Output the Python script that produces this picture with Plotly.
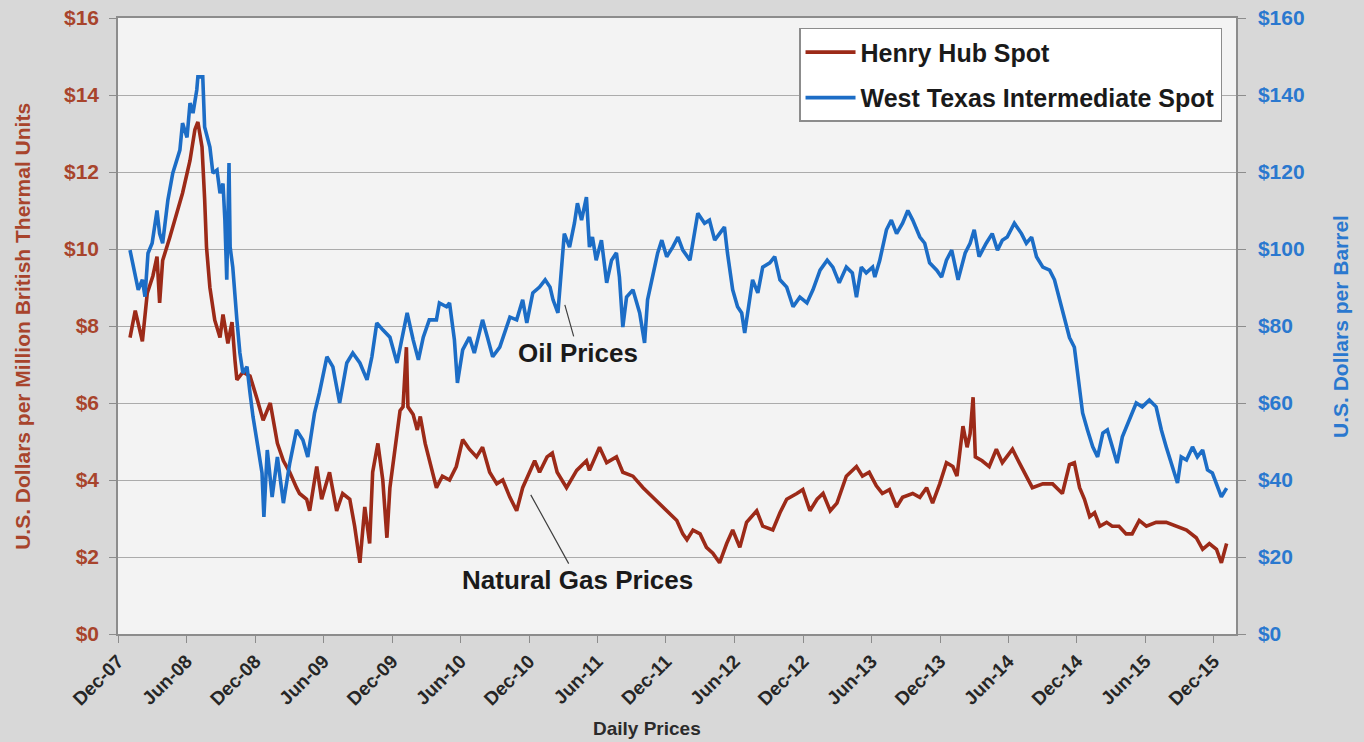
import plotly.graph_objects as go

# ---------------- data ----------------
gas_dates = [
    "2008-01-02", "2008-01-16", "2008-02-04", "2008-02-17", "2008-03-03", "2008-03-14", "2008-03-21", "2008-03-29",
    "2008-04-17", "2008-05-06", "2008-05-21", "2008-06-10", "2008-06-23", "2008-07-01", "2008-07-12", "2008-07-19",
    "2008-07-24", "2008-08-02", "2008-08-15", "2008-08-29", "2008-09-06", "2008-09-19", "2008-09-30", "2008-10-08",
    "2008-10-13", "2008-10-29", "2008-11-17", "2008-12-06", "2008-12-22", "2009-01-10", "2009-01-29", "2009-02-14",
    "2009-03-03", "2009-03-21", "2009-03-29", "2009-04-17", "2009-04-25", "2009-05-14", "2009-05-27", "2009-06-17",
    "2009-07-06", "2009-07-22", "2009-08-10", "2009-08-23", "2009-09-06", "2009-09-19", "2009-10-02", "2009-10-10",
    "2009-10-24", "2009-11-06", "2009-11-17", "2009-11-25", "2009-12-14", "2009-12-22", "2009-12-30", "2010-01-08",
    "2010-01-12", "2010-01-26", "2010-02-06", "2010-02-14", "2010-02-27", "2010-03-16", "2010-03-29", "2010-04-14",
    "2010-05-03", "2010-05-21", "2010-06-07", "2010-06-25", "2010-07-14", "2010-07-30", "2010-08-18", "2010-09-06",
    "2010-09-22", "2010-10-11", "2010-10-29", "2010-11-14", "2010-12-03", "2010-12-16", "2010-12-29", "2011-01-18",
    "2011-02-01", "2011-02-14", "2011-03-11", "2011-04-07", "2011-05-03", "2011-05-11", "2011-06-07", "2011-06-26",
    "2011-07-22", "2011-08-08", "2011-09-04", "2011-10-01", "2011-10-27", "2011-11-23", "2011-12-11", "2011-12-30",
    "2012-01-15", "2012-01-26", "2012-02-11", "2012-03-01", "2012-03-18", "2012-04-04", "2012-04-22", "2012-05-11",
    "2012-05-27", "2012-06-15", "2012-07-03", "2012-07-30", "2012-08-15", "2012-09-11", "2012-09-30", "2012-10-18",
    "2012-11-14", "2012-11-30", "2012-12-19", "2013-01-07", "2013-01-23", "2013-02-11", "2013-03-01", "2013-03-26",
    "2013-04-22", "2013-05-08", "2013-05-26", "2013-06-14", "2013-06-30", "2013-07-19", "2013-08-07", "2013-08-23",
    "2013-09-19", "2013-10-08", "2013-10-26", "2013-11-11", "2013-11-30", "2013-12-18", "2014-01-04", "2014-01-15",
    "2014-01-31", "2014-02-11", "2014-02-19", "2014-02-27", "2014-03-05", "2014-03-23", "2014-04-11", "2014-04-30",
    "2014-05-16", "2014-06-12", "2014-06-30", "2014-07-19", "2014-08-04", "2014-09-01", "2014-09-27", "2014-10-23",
    "2014-11-11", "2014-11-24", "2014-12-08", "2014-12-21", "2015-01-04", "2015-01-17", "2015-01-31", "2015-02-18",
    "2015-03-05", "2015-03-23", "2015-04-11", "2015-04-27", "2015-05-16", "2015-06-04", "2015-06-30", "2015-07-27",
    "2015-08-23", "2015-09-19", "2015-10-15", "2015-11-01", "2015-11-19", "2015-12-08", "2015-12-21", "2016-01-04",
]
gas_values = [
    7.7, 8.4, 7.6, 8.85, 9.3, 9.8, 8.6, 9.7,
    10.3, 10.9, 11.45, 12.3, 13.1, 13.3, 12.65, 11.3,
    10.05, 9.0, 8.15, 7.7, 8.3, 7.55, 8.1, 7.1,
    6.6, 6.8, 6.7, 6.1, 5.55, 6.0, 4.95, 4.5,
    4.2, 3.8, 3.65, 3.5, 3.2, 4.35, 3.5, 4.2,
    3.2, 3.65, 3.5, 2.8, 1.85, 3.3, 2.35, 4.2,
    4.95, 4.0, 2.5, 3.8, 5.2, 5.8, 5.9, 7.45,
    5.9, 5.7, 5.3, 5.65, 4.95, 4.25, 3.8, 4.1,
    4.0, 4.35, 5.05, 4.8, 4.6, 4.85, 4.2, 3.9,
    4.0, 3.55, 3.2, 3.8, 4.2, 4.5, 4.2, 4.6,
    4.7, 4.2, 3.8, 4.25, 4.5, 4.25, 4.85, 4.45,
    4.6, 4.2, 4.1, 3.8, 3.55, 3.3, 3.15, 2.95,
    2.6, 2.45, 2.7, 2.6, 2.25, 2.1, 1.85, 2.35,
    2.7, 2.25, 2.9, 3.2, 2.8, 2.7, 3.15, 3.5,
    3.65, 3.75, 3.2, 3.5, 3.65, 3.2, 3.4, 4.1,
    4.35, 4.1, 4.2, 3.85, 3.65, 3.75, 3.3, 3.55,
    3.65, 3.55, 3.8, 3.4, 3.9, 4.45, 4.35, 4.1,
    5.4, 4.85, 5.2, 6.15, 4.6, 4.5, 4.35, 4.8,
    4.45, 4.8, 4.45, 4.1, 3.8, 3.9, 3.9, 3.65,
    4.4, 4.45, 3.8, 3.5, 3.05, 3.15, 2.8, 2.9,
    2.8, 2.8, 2.6, 2.6, 2.95, 2.8, 2.9, 2.9,
    2.8, 2.7, 2.5, 2.2, 2.35, 2.2, 1.85, 2.35,
]

oil_dates = [
    "2008-01-02", "2008-01-16", "2008-01-24", "2008-02-04", "2008-02-11", "2008-02-19", "2008-03-01", "2008-03-14",
    "2008-03-21", "2008-03-29", "2008-04-12", "2008-04-25", "2008-05-06", "2008-05-14", "2008-05-21", "2008-06-02",
    "2008-06-10", "2008-06-18", "2008-06-28", "2008-07-01", "2008-07-14", "2008-07-19", "2008-08-02", "2008-08-10",
    "2008-08-21", "2008-08-29", "2008-09-06", "2008-09-11", "2008-09-16", "2008-09-22", "2008-09-25", "2008-10-02",
    "2008-10-13", "2008-10-21", "2008-10-29", "2008-11-09", "2008-11-17", "2008-11-25", "2008-12-08", "2008-12-19",
    "2008-12-24", "2009-01-02", "2009-01-15", "2009-01-29", "2009-02-14", "2009-03-03", "2009-03-21", "2009-04-07",
    "2009-04-20", "2009-05-08", "2009-05-21", "2009-06-10", "2009-06-26", "2009-07-14", "2009-08-02", "2009-08-18",
    "2009-09-06", "2009-09-25", "2009-10-08", "2009-10-21", "2009-11-06", "2009-11-25", "2009-12-14", "2009-12-28",
    "2010-01-10", "2010-01-26", "2010-02-09", "2010-02-22", "2010-03-10", "2010-03-29", "2010-04-06", "2010-04-25",
    "2010-05-03", "2010-05-16", "2010-05-24", "2010-06-07", "2010-06-25", "2010-07-08", "2010-07-30", "2010-08-12",
    "2010-08-26", "2010-09-14", "2010-10-11", "2010-10-29", "2010-11-14", "2010-11-25", "2010-12-11", "2010-12-29",
    "2011-01-13", "2011-01-26", "2011-02-03", "2011-02-16", "2011-02-25", "2011-03-05", "2011-03-19", "2011-04-01",
    "2011-04-09", "2011-04-20", "2011-05-03", "2011-05-11", "2011-05-19", "2011-05-29", "2011-06-12", "2011-06-26",
    "2011-07-09", "2011-07-22", "2011-07-30", "2011-08-08", "2011-08-18", "2011-09-04", "2011-09-22", "2011-10-05",
    "2011-10-13", "2011-10-27", "2011-11-09", "2011-11-20", "2011-12-03", "2011-12-19", "2012-01-02", "2012-01-15",
    "2012-02-03", "2012-02-24", "2012-03-13", "2012-03-26", "2012-04-09", "2012-04-22", "2012-05-05", "2012-05-13",
    "2012-05-27", "2012-06-09", "2012-06-20", "2012-06-28", "2012-07-11", "2012-07-19", "2012-08-02", "2012-08-15",
    "2012-09-03", "2012-09-16", "2012-09-30", "2012-10-18", "2012-11-04", "2012-11-22", "2012-12-11", "2012-12-27",
    "2013-01-15", "2013-02-03", "2013-02-18", "2013-03-07", "2013-03-26", "2013-04-11", "2013-04-22", "2013-05-05",
    "2013-05-18", "2013-06-04", "2013-06-10", "2013-06-23", "2013-07-11", "2013-07-24", "2013-08-07", "2013-08-23",
    "2013-09-06", "2013-09-19", "2013-10-08", "2013-10-21", "2013-11-03", "2013-11-22", "2013-12-05", "2013-12-18",
    "2014-01-01", "2014-01-18", "2014-02-06", "2014-02-19", "2014-03-02", "2014-03-15", "2014-04-03", "2014-04-19",
    "2014-05-03", "2014-05-16", "2014-05-29", "2014-06-17", "2014-07-06", "2014-07-19", "2014-08-02", "2014-08-15",
    "2014-09-01", "2014-09-19", "2014-10-02", "2014-10-16", "2014-10-29", "2014-11-11", "2014-11-24", "2014-12-02",
    "2014-12-16", "2014-12-29", "2015-01-12", "2015-01-25", "2015-02-08", "2015-02-20", "2015-03-05", "2015-03-18",
    "2015-04-01", "2015-04-19", "2015-05-08", "2015-05-24", "2015-06-12", "2015-06-30", "2015-07-14", "2015-07-27",
    "2015-08-12", "2015-08-26", "2015-09-05", "2015-09-19", "2015-10-05", "2015-10-18", "2015-11-01", "2015-11-14",
    "2015-11-27", "2015-12-11", "2015-12-21", "2016-01-04",
]
oil_values = [
    99.7, 92.7, 89.4, 92.0, 87.6, 98.9, 101.5, 110.0,
    104.0, 101.5, 112.7, 119.7, 123.0, 125.7, 132.7, 129.0,
    137.9, 135.3, 141.3, 144.7, 144.7, 131.7, 126.5, 119.7,
    120.5, 114.5, 117.0, 107.5, 92.0, 122.3, 100.5, 95.3,
    81.6, 73.0, 67.8, 69.4, 62.6, 56.4, 48.6, 41.8,
    30.4, 47.8, 35.6, 46.0, 34.0, 44.4, 53.0, 50.4,
    46.0, 57.4, 62.6, 72.0, 69.4, 60.0, 70.4, 73.0,
    70.4, 66.0, 72.0, 80.8, 79.0, 77.1, 70.4, 77.1,
    83.4, 76.4, 71.2, 77.1, 81.6, 81.6, 86.0, 85.0,
    86.0, 76.4, 65.2, 73.8, 77.1, 73.0, 81.6, 77.1,
    72.0, 74.5, 82.3, 81.6, 86.8, 80.8, 88.6, 90.1,
    92.0, 90.1, 86.8, 83.4, 95.3, 104.0, 100.5, 106.7,
    111.9, 107.5, 113.5, 100.5, 103.1, 97.1, 102.3, 91.2,
    97.1, 99.0, 92.7, 79.7, 87.5, 89.4, 83.4, 75.6,
    86.8, 92.7, 99.0, 102.3, 98.0, 100.5, 103.1, 99.7,
    97.1, 109.3, 106.7, 107.5, 102.3, 104.0, 105.7, 99.0,
    89.4, 85.0, 83.4, 78.2, 87.5, 92.0, 88.6, 95.3,
    96.4, 98.0, 92.0, 90.1, 85.0, 87.5, 86.0, 89.4,
    94.5, 97.1, 95.3, 91.2, 95.3, 93.8, 87.5, 95.3,
    93.8, 95.3, 92.7, 97.0, 105.0, 107.5, 104.0, 106.7,
    110.0, 107.5, 103.1, 101.5, 96.4, 94.5, 92.7, 97.1,
    99.7, 92.0, 99.0, 101.5, 105.0, 98.0, 101.5, 104.0,
    99.7, 102.3, 103.1, 106.7, 104.0, 101.5, 103.1, 98.0,
    95.3, 94.5, 92.0, 87.0, 81.5, 77.0, 74.5, 67.8,
    57.4, 53.0, 48.6, 46.0, 52.2, 53.0, 48.6, 44.4,
    51.2, 55.6, 60.0, 59.0, 60.8, 59.0, 53.0, 48.6,
    43.4, 39.2, 46.0, 45.2, 48.6, 46.0, 47.8, 42.6,
    41.8, 38.2, 35.6, 37.9,
]

tick_dates = [
    "2007-12-01", "2008-06-01", "2008-12-01", "2009-06-01", "2009-12-01", "2010-06-01",
    "2010-12-01", "2011-06-01", "2011-12-01", "2012-06-01", "2012-12-01", "2013-06-01",
    "2013-12-01", "2014-06-01", "2014-12-01", "2015-06-01", "2015-12-01",
]
tick_labels = [
    "Dec-07", "Jun-08", "Dec-08", "Jun-09", "Dec-09", "Jun-10", "Dec-10", "Jun-11", "Dec-11",
    "Jun-12", "Dec-12", "Jun-13", "Dec-13", "Jun-14", "Dec-14", "Jun-15", "Dec-15",
]

# ---------------- styling ----------------
FONT = "Liberation Sans, Arial, sans-serif"
GAS_COLOR = "#9C2A18"
OIL_COLOR = "#1C6DC6"
GAS_LABEL = "#A8442C"
OIL_LABEL = "#2A78CF"
PAPER = "#D8D8D8"

fig = go.Figure()
fig.add_trace(go.Scatter(
    x=gas_dates, y=gas_values, mode="lines", name="Henry Hub Spot",
    line=dict(color=GAS_COLOR, width=3.6), yaxis="y", legendgroup="g1",
))
fig.add_trace(go.Scatter(
    x=oil_dates, y=oil_values, mode="lines", name="West Texas Intermediate Spot",
    line=dict(color=OIL_COLOR, width=3.6), yaxis="y2", legendgroup="g2",
))

fig.update_layout(
    width=1364, height=742,
    margin=dict(l=118, r=128, t=18, b=108, autoexpand=False),
    paper_bgcolor=PAPER,
    plot_bgcolor="#F3F3F3",
    font=dict(family=FONT),
    showlegend=True,
    legend=dict(
        x=0.9875, xanchor="right", y=0.984, yanchor="top",
        bgcolor="#FFFFFF", bordercolor="#8C8C8C", borderwidth=1.5,
        font=dict(family=FONT, size=25, color="#1A1A1A", weight="bold"),
        tracegroupgap=10, traceorder="grouped", itemwidth=50,
    ),
    xaxis=dict(
        type="date", range=["2007-12-01", "2016-01-29"],
        tickmode="array", tickvals=tick_dates, ticktext=tick_labels,
        tickangle=-45, ticks="outside", ticklen=7, tickcolor="#8C8C8C",
        showline=True, linecolor="#8C8C8C", linewidth=1.5, mirror=True,
        showgrid=False, zeroline=False, automargin=False,
        tickfont=dict(family=FONT, size=19, color="#262626", weight="bold"),
    ),
    yaxis=dict(
        range=[0, 16], dtick=2, tickprefix="$",
        ticks="outside", ticklen=7, tickcolor="#8C8C8C", ticklabelstandoff=6,
        showline=True, linecolor="#8C8C8C", linewidth=1.5,
        showgrid=True, gridcolor="#ABABAB", gridwidth=1, zeroline=False, automargin=False,
        tickfont=dict(family=FONT, size=21, color=GAS_LABEL, weight="bold"),
    ),
    yaxis2=dict(
        range=[0, 160], dtick=20, tickprefix="$", overlaying="y", side="right",
        ticks="outside", ticklen=8, tickcolor="#8C8C8C", ticklabelstandoff=8,
        showline=True, linecolor="#8C8C8C", linewidth=1.5,
        showgrid=False, zeroline=False, automargin=False,
        tickfont=dict(family=FONT, size=21, color=OIL_LABEL, weight="bold"),
    ),
)

annotations = [
    dict(text="U.S. Dollars per Million British Thermal Units", xref="paper", yref="paper",
         x=-0.086, y=0.5, xanchor="center", yanchor="middle", textangle=-90, showarrow=False,
         font=dict(family=FONT, size=21, color=GAS_LABEL, weight="bold")),
    dict(text="U.S. Dollars per Barrel", xref="paper", yref="paper",
         x=1.093, y=0.5, xanchor="center", yanchor="middle", textangle=-90, showarrow=False,
         font=dict(family=FONT, size=21, color=OIL_LABEL, weight="bold")),
    dict(text="Daily Prices", xref="paper", yref="paper",
         x=0.473, y=-0.1526, xanchor="center", yanchor="middle", showarrow=False,
         font=dict(family=FONT, size=19, color="#2B2B2B", weight="bold")),
    dict(text="Oil Prices", xref="x", yref="y2", x="2011-03-05", y=86,
         ax=14, ay=50, showarrow=True, arrowhead=0, arrowwidth=1.2, arrowcolor="#404040",
         standoff=2, font=dict(family=FONT, size=26, color="#1A1A1A", weight="bold")),
    dict(text="Natural Gas Prices", xref="x", yref="y", x="2010-12-03", y=3.66,
         ax=48, ay=87, showarrow=True, arrowhead=0, arrowwidth=1.2, arrowcolor="#404040",
         standoff=2, font=dict(family=FONT, size=26, color="#1A1A1A", weight="bold")),
]
fig.update_layout(annotations=annotations)

fig.write_html(
    "out.html",
    config={"displayModeBar": False},
    post_script=(
        "document.documentElement.style.margin='0';"
        "document.body.style.margin='0';"
        "document.body.style.overflow='hidden';"
        f"document.body.style.background='{PAPER}';"
    ),
)
